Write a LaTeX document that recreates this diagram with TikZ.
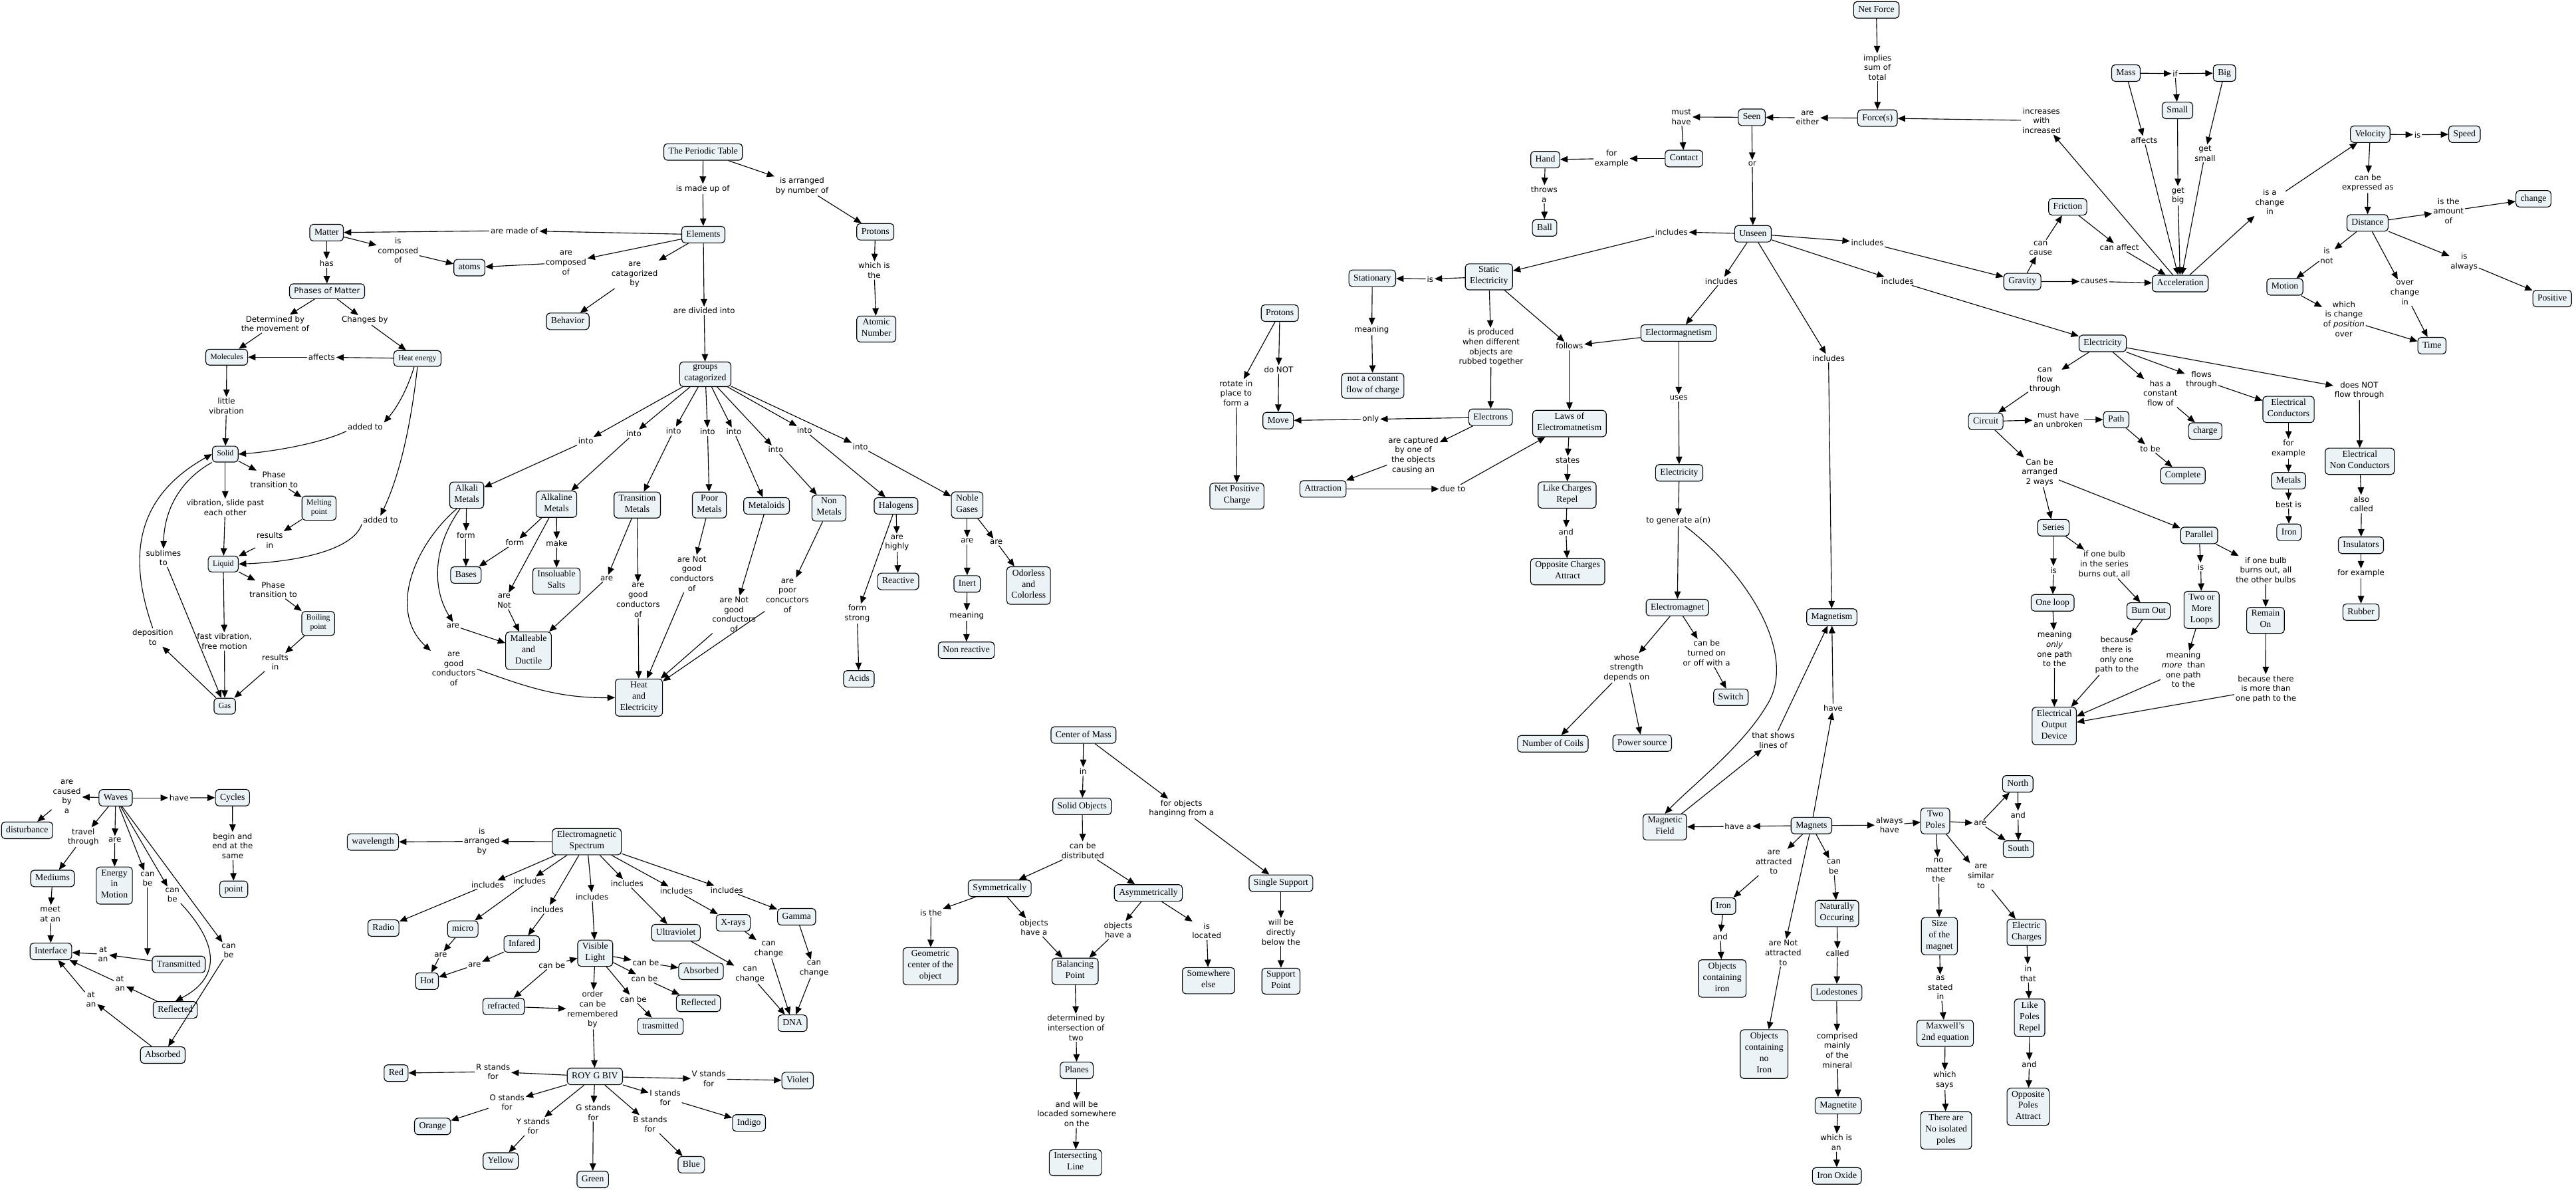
\documentclass[tikz,border=0pt]{standalone}
\usepackage{fontspec}
\setmainfont{Liberation Serif}
\newfontfamily\lsans{DejaVu Sans}
\usetikzlibrary{arrows.meta}
\definecolor{nodefill}{RGB}{236,243,246}
\newcommand{\cmlk}[3]{\draw[arr] (#1) -- (#2); \draw[arr] (#2) -- (#3);}
\newcommand{\cmar}[2]{\draw[arr] (#1) -- (#2);}
\begin{document}
\begin{tikzpicture}[x=1mm,y=-1mm,
 cpt/.style={draw=black, line width=1.3pt, rounded corners=6pt, fill=nodefill, align=center, inner xsep=8pt, inner ysep=4.6pt, font=\fontsize{15.8}{19.5}\selectfont, execute at begin node=\strut, execute at end node=\strut},
 cptsm/.style={cpt, font=\fontsize{13.6}{16.5}\selectfont, inner ysep=5.5pt},
 cptsans/.style={cpt, font=\lsans\fontsize{13.6}{16.5}\selectfont},
 lbl/.style={align=center, inner sep=2pt, font=\lsans\fontsize{13.6}{16.9}\selectfont},
 arr/.style={-{Triangle[length=13pt,width=11pt]}, line width=1.3pt},
]
\fill[white] (0,0) rectangle (1568,724);
\useasboundingbox (0,0) rectangle (1568,724);

% ---------- Periodic table ----------
\node[cpt] (pt) at (428,92.5) {The Periodic Table};
\node[lbl] (l1) at (427.8,115) {is made up of};
\node[cpt] (elem) at (428.1,142.8) {Elements};
\node[lbl] (l2) at (488.2,113.1) {is arranged\\by number of};
\node[cpt] (prot1) at (532.8,141.1) {Protons};
\node[lbl] (l3) at (532.1,164.6) {which is\\the};
\node[cpt] (atomic) at (533.4,200.3) {Atomic\\Number};
\node[lbl] (l4) at (313.1,140.4) {are made of};
\node[cpt] (matter) at (198.8,141.6) {Matter};
\node[lbl] (l5) at (242.3,152.5) {is\\composed\\of};
\node[cpt] (atoms) at (285.7,162.9) {atoms};
\node[lbl] (l6) at (344.5,159.9) {are\\composed\\of};
\node[lbl] (l7) at (386.3,167.1) {are\\catagorized\\by};
\node[cpt] (behav) at (345.6,195.6) {Behavior};
\node[lbl] (l8) at (428.6,189.2) {are divided into};
\node[cpt] (groups) at (429.3,227.8) {groups\\catagorized};

% ---------- Matter ----------
\node[lbl] (m1) at (198.8,160.4) {has};
\node[cptsans] (phases) at (199.1,177.3) {Phases of Matter};
\node[lbl] (m2) at (167.5,197.1) {Determined by\\the movement of};
\node[lbl] (m3) at (222.1,194.9) {Changes by};
\node[cptsm] (molec) at (138,217.4) {Molecules};
\node[lbl] (m4) at (195.8,217.4) {affects};
\node[cptsm] (heat) at (254.1,218.2) {Heat energy};
\node[lbl] (m5) at (137.8,247.2) {little\\vibration};
\node[lbl] (m6) at (222.3,259.8) {added to};
\node[cptsm] (solid) at (137.1,276.4) {Solid};
\node[lbl] (m7) at (166.8,292) {Phase\\transition to};
\node[cptsm] (melt) at (194.2,309.3) {Melting\\point};
\node[lbl] (m8) at (137.1,309.1) {vibration, slide past\\each other};
\node[lbl] (m9) at (231.6,316.5) {added to};
\node[lbl] (m10) at (164.2,328.9) {results\\in};
\node[cptsm] (liquid) at (135.9,343.3) {Liquid};
\node[lbl] (m11) at (166.3,358.9) {Phase\\transition to};
\node[cptsm] (boil) at (193.7,379.5) {Boiling\\point};
\node[lbl] (m12) at (136.6,390.4) {fast vibration,\\free motion};
\node[lbl] (m13) at (167.5,403) {results\\in};
\node[cptsm] (gas) at (136.8,429.8) {Gas};
\node[lbl] (m14) at (99.5,339.5) {sublimes\\to};
\node[lbl] (m15) at (93,388) {deposition\\to};

% ---------- Groups ----------
\node[lbl] (g1) at (356.6,268.5) {into};
\node[lbl] (g2) at (385.8,264) {into};
\node[lbl] (g3) at (410,262.3) {into};
\node[lbl] (g4) at (430.7,262.8) {into};
\node[lbl] (g5) at (446.7,262.8) {into};
\node[lbl] (g6) at (472.2,273.7) {into};
\node[lbl] (g7) at (489.7,262) {into};
\node[lbl] (g8) at (523.7,271.9) {into};
\node[cpt] (alkali) at (284.1,301.4) {Alkali\\Metals};
\node[cpt] (alkaline) at (338.7,306.9) {Alkaline\\Metals};
\node[cpt] (trans) at (387.9,307.4) {Transition\\Metals};
\node[cpt] (poor) at (431.8,307.4) {Poor\\Metals};
\node[cpt] (metaloids) at (466.6,307.9) {Metaloids};
\node[cpt] (nonmet) at (504.6,309.3) {Non\\Metals};
\node[cpt] (halo) at (545.4,307.9) {Halogens};
\node[cpt] (noble) at (588.7,307.4) {Noble\\Gases};
\node[lbl] (g9) at (283.6,325.7) {form};
\node[cpt] (bases) at (283.6,350) {Bases};
\node[lbl] (g10) at (313.4,330.4) {form};
\node[lbl] (g11) at (338.9,330.7) {make};
\node[cpt] (salts) at (338.7,353.7) {Insoluable\\Salts};
\node[lbl] (g12) at (306.9,365.8) {are\\Not};
\node[cpt] (mall) at (321.7,396.1) {Malleable\\and\\Ductile};
\node[lbl] (g13) at (275.7,380.7) {are};
\node[lbl] (g14) at (276.2,407.2) {are\\good\\conductors\\of};
\node[lbl] (g15) at (369.3,352) {are};
\node[lbl] (g16) at (388.4,365.3) {are\\good\\conductors\\of};
\node[cpt] (heatel) at (388.9,424.6) {Heat\\and\\Electricity};
\node[lbl] (g17) at (421.1,349.2) {are Not\\good\\conductors\\of};
\node[lbl] (g18) at (446.8,374) {are Not\\good\\conductors\\of};
\node[lbl] (g19) at (479.3,362.6) {are\\poor\\concuctors\\of};
\node[lbl] (g20) at (546,330.4) {are\\highly};
\node[cpt] (react) at (546.7,353.9) {Reactive};
\node[lbl] (g21) at (521.8,373.5) {form\\strong};
\node[cpt] (acids) at (522.8,413.2) {Acids};
\node[lbl] (g22) at (588.7,329.2) {are};
\node[lbl] (g23) at (606.4,329.9) {are};
\node[cpt] (inert) at (588.7,355.4) {Inert};
\node[lbl] (g24) at (588.4,374.8) {meaning};
\node[cpt] (nonreact) at (588.2,395.8) {Non reactive};
\node[cpt] (odor) at (626.1,356.4) {Odorless\\and\\Colorless};

% ---------- Waves ----------
\node[cpt] (waves) at (70.4,485.6) {Waves};
\node[lbl] (w1) at (40.7,484.9) {are\\caused\\by\\a};
\node[cpt] (disturb) at (16.5,505.4) {disturbance};
\node[lbl] (w2) at (109,485.6) {have};
\node[cpt] (cycles) at (141.5,485.5) {Cycles};
\node[lbl] (w3) at (141.6,514.9) {begin and\\end at the\\same};
\node[cpt] (point) at (142.3,541.3) {point};
\node[lbl] (w4) at (50.7,509.6) {travel\\through};
\node[cpt] (mediums) at (32,534.7) {Mediums};
\node[lbl] (w5) at (30.6,556.3) {meet\\at an};
\node[cpt] (interface) at (31,579.1) {Interface};
\node[lbl] (w6) at (69.9,511) {are};
\node[cpt] (energy) at (69.6,539) {Energy\\in\\Motion};
\node[lbl] (w7) at (89.8,535) {can\\be};
\node[lbl] (w8) at (104.9,544.7) {can\\be};
\node[lbl] (w9) at (139.2,578.7) {can\\be};
\node[cpt] (transm) at (108.8,587) {Transmitted};
\node[lbl] (w10) at (62.7,580.8) {at\\an};
\node[cpt] (reflw) at (106.7,614.7) {Reflected};
\node[lbl] (w11) at (73,598.6) {at\\an};
\node[lbl] (w12) at (55.4,608.3) {at\\an};
\node[cpt] (absw) at (99.1,642.2) {Absorbed};

% ---------- Electromagnetic spectrum ----------
\node[cpt] (ems) at (357.2,512.3) {Electromagnetic\\Spectrum};
\node[lbl] (e0) at (293.3,512.1) {is\\arranged\\by};
\node[cpt] (wavelen) at (227,512.5) {wavelength};
\node[lbl] (ei1) at (296.8,538.5) {includes};
\node[lbl] (ei2) at (322.3,536.1) {includes};
\node[lbl] (ei3) at (333.1,553.5) {includes};
\node[lbl] (ei4) at (360.4,545.8) {includes};
\node[lbl] (ei5) at (381.7,537.7) {includes};
\node[lbl] (ei6) at (411.7,542.2) {includes};
\node[lbl] (ei7) at (442.4,541.7) {includes};
\node[cpt] (radio) at (233.4,564.9) {Radio};
\node[cpt] (micro) at (281.7,565.5) {micro};
\node[lbl] (e2) at (268.2,581.1) {are};
\node[lbl] (e3) at (288.8,587.4) {are};
\node[cpt] (hot) at (259.9,597.2) {Hot};
\node[cpt] (infared) at (317.6,574.6) {Infared};
\node[cpt] (vl) at (362.3,580.2) {Visible\\Light};
\node[lbl] (e1) at (336,587.4) {can be};
\node[cpt] (refr) at (306.6,612.6) {refracted};
\node[lbl] (e4) at (360.7,614.5) {order\\can be\\remembered\\by};
\node[lbl] (e5) at (393.1,585.9) {can be};
\node[cpt] (absE) at (426.7,591.2) {Absorbed};
\node[lbl] (e6) at (392.3,595.6) {can be};
\node[cpt] (reflE) at (425.1,610.7) {Reflected};
\node[lbl] (e7) at (385.5,608.1) {can be};
\node[cpt] (trasm) at (402,624.7) {trasmitted};
\node[cpt] (uv) at (411.4,567.7) {Ultraviolet};
\node[cpt] (xray) at (446.3,561.7) {X-rays};
\node[cpt] (gamma) at (484.9,558) {Gamma};
\node[lbl] (e8) at (456.5,593.2) {can\\change};
\node[lbl] (e9) at (467.9,577.8) {can\\change};
\node[lbl] (e10) at (495.5,589.6) {can\\change};
\node[cpt] (dna) at (482.4,622.8) {DNA};
\node[cpt] (roy) at (362.1,655.2) {ROY G BIV};
\node[lbl] (e11) at (300.1,652.3) {R stands\\for};
\node[cpt] (red) at (241.1,653.2) {Red};
\node[lbl] (e12) at (431.4,656.7) {V stands\\for};
\node[cpt] (violet) at (485.5,657.7) {Violet};
\node[lbl] (e13) at (308.6,670.9) {O stands\\for};
\node[cpt] (orange) at (263.3,685.6) {Orange};
\node[lbl] (e14) at (324.5,685.5) {Y stands\\for};
\node[cpt] (yellow) at (304.8,706.7) {Yellow};
\node[lbl] (e15) at (361.1,677.1) {G stands\\for};
\node[cpt] (green) at (360.8,717.9) {Green};
\node[lbl] (e16) at (395.7,684.3) {B stands\\for};
\node[cpt] (blue) at (420.8,708.9) {Blue};
\node[lbl] (e17) at (404.9,668.1) {I stands\\for};
\node[cpt] (indigo) at (455.9,683.5) {Indigo};

% ---------- Center of mass ----------
\node[cpt] (com) at (659.5,447.4) {Center of Mass};
\node[lbl] (k1) at (659.3,469.5) {in};
\node[cpt] (solidobj) at (658.7,490.8) {Solid Objects};
\node[lbl] (k2) at (719.1,492.2) {for objects\\hanginng from a};
\node[lbl] (k3) at (659.1,517.7) {can be\\distributed};
\node[cpt] (sym) at (608.5,540.7) {Symmetrically};
\node[cpt] (asym) at (699,543.5) {Asymmetrically};
\node[cpt] (single) at (779.7,537.6) {Single Support};
\node[lbl] (k4) at (566.7,555.7) {is the};
\node[lbl] (k5) at (629.4,564.5) {objects\\have a};
\node[lbl] (k6) at (680.6,566.1) {objects\\have a};
\node[lbl] (k7) at (734.5,566.5) {is\\located};
\node[lbl] (k8) at (779.7,567.3) {will be\\directly\\below the};
\node[cpt] (geo) at (566.4,588.1) {Geometric\\center of the\\object};
\node[cpt] (bal) at (654.4,591.2) {Balancing\\Point};
\node[cpt] (somewhere) at (735.6,596.9) {Somewhere\\else};
\node[cpt] (support) at (779.7,597.2) {Support\\Point};
\node[lbl] (k9) at (655,625.6) {determined by\\intersection of\\two};
\node[cpt] (planes) at (655.4,651.5) {Planes};
\node[lbl] (k10) at (655.4,678) {and will be\\locaded somewhere\\on the};
\node[cpt] (intline) at (654.6,707.7) {Intersecting\\Line};

% ---------- Forces ----------
\node[cpt] (netf) at (1142.1,6) {Net Force};
\node[lbl] (f1) at (1142.8,41) {implies\\sum of\\total};
\node[cpt] (forces) at (1142.8,71.9) {Force(s)};
\node[lbl] (f2) at (1100.2,71.7) {are\\either};
\node[cpt] (seen) at (1066.3,71.4) {Seen};
\node[lbl] (f3) at (1023.4,71.2) {must\\have};
\node[cpt] (contact) at (1025,96.5) {Contact};
\node[lbl] (f4) at (980.9,96.5) {for\\example};
\node[cpt] (hand) at (940.6,97.2) {Hand};
\node[lbl] (f5) at (939.9,118.3) {throws\\a};
\node[cpt] (ball) at (940.2,138.7) {Ball};
\node[lbl] (f6) at (1066.6,99.5) {or};
\node[cpt] (unseen) at (1067,142.3) {Unseen};
\node[lbl] (f7) at (1017.4,141.1) {includes};
\node[lbl] (f8) at (1136.7,147.6) {includes};
\node[lbl] (f9) at (1047.8,171.1) {includes};
\node[lbl] (f10) at (1155,171.1) {includes};
\node[lbl] (f11) at (1113,218) {includes};
\node[cpt] (static) at (906.3,168.5) {Static\\Electricity};
\node[lbl] (f12) at (870.5,169.8) {is};
\node[cpt] (stat) at (835.3,169.4) {Stationary};
\node[lbl] (f13) at (835,201) {meaning};
\node[cpt] (notc) at (835.6,234.8) {not a constant\\flow of charge};
\node[cpt] (prot2) at (779,190.6) {Protons};
\node[lbl] (f14) at (778.3,224.9) {do NOT};
\node[lbl] (f15) at (752.4,239.3) {rotate in\\place to\\form a};
\node[cpt] (move) at (778,256) {Move};
\node[lbl] (f16) at (834.3,255.2) {only};
\node[cpt] (electrons) at (907.3,254) {Electrons};
\node[lbl] (f17) at (907.6,211.5) {is produced\\when different\\objects are\\rubbed together};
\node[lbl] (f18) at (955.3,210.6) {follows};
\node[cpt] (emism) at (1021.8,202.7) {Electormagnetism};
\node[cpt] (laws) at (955.3,257.8) {Laws of\\Electromatnetism};
\node[lbl] (f19) at (1021.8,242.2) {uses};
\node[lbl] (f20) at (860.3,277.1) {are captured\\by one of\\the objects\\causing an};
\node[cpt] (attr) at (805.3,297.6) {Attraction};
\node[lbl] (f21) at (884.3,297.6) {due to};
\node[cpt] (netpos) at (752.9,302) {Net Positive\\Charge};
\node[lbl] (f22) at (954.2,280.1) {states};
\node[cpt] (likec) at (953.9,301.3) {Like Charges\\Repel};
\node[lbl] (f23) at (953.2,323.6) {and};
\node[cpt] (oppc) at (954.2,348) {Opposite Charges\\Attract};
\node[cpt] (elecC) at (1022.1,287.8) {Electricity};
\node[lbl] (f24) at (1021.6,317.1) {to generate a(n)};
\node[cpt] (emag) at (1021,369.8) {Electromagnet};
\node[lbl] (f25) at (990.1,406.5) {whose\\strength\\depends on};
\node[lbl] (f26) at (1038.8,397.4) {can be\\turned on\\or off with a};
\node[cpt] (switch) at (1053.6,424.4) {Switch};
\node[cpt] (coils) at (945.2,452.7) {Number of Coils};
\node[cpt] (power) at (999.6,452.3) {Power source};
\node[cpt] (magnetism) at (1115,375.6) {Magnetism};
\node[lbl] (f27) at (1079.4,450.6) {that shows\\lines of};
\node[lbl] (f28) at (1115.8,430.9) {have};

% ---------- Magnets ----------
\node[cpt] (magfield) at (1013.4,503.4) {Magnetic\\Field};
\node[lbl] (n1) at (1057.9,503) {have a};
\node[cpt] (magnets) at (1102.6,502.5) {Magnets};
\node[lbl] (n2) at (1150.1,502.2) {always\\have};
\node[cpt] (twopoles) at (1178,499.7) {Two\\Poles};
\node[lbl] (n3) at (1205.4,501.1) {are};
\node[cpt] (north) at (1228.2,477.1) {North};
\node[lbl] (n4) at (1228.4,496.1) {and};
\node[cpt] (south) at (1228.6,516.8) {South};
\node[lbl] (n5) at (1180,529.7) {no\\matter\\the};
\node[lbl] (n6) at (1205.8,533.4) {are\\similar\\to};
\node[cpt] (size) at (1180.5,569.8) {Size\\of the\\magnet};
\node[cpt] (echarge) at (1233.5,567.5) {Electric\\Charges};
\node[lbl] (n7) at (1181.1,601.2) {as\\stated\\in};
\node[lbl] (n8) at (1234.5,592.5) {in\\that};
\node[cpt] (maxwell) at (1184,628.9) {Maxwell's\\2nd equation};
\node[cpt] (likep) at (1235.4,619.5) {Like\\Poles\\Repel};
\node[lbl] (n9) at (1183.7,657.5) {which\\says};
\node[lbl] (n10) at (1235.2,647.9) {and};
\node[cpt] (noiso) at (1184.6,688) {There are\\No isolated\\poles};
\node[cpt] (oppp) at (1234.5,673.7) {Opposite\\Poles\\Attract};
\node[lbl] (n11) at (1079.7,524.8) {are\\attracted\\to};
\node[cpt] (ironM) at (1049.1,551.5) {Iron};
\node[lbl] (n12) at (1047.1,570) {and};
\node[cpt] (objiron) at (1048.3,595.6) {Objects\\containing\\iron};
\node[lbl] (n13) at (1085.4,579.9) {are Not\\attracted\\to};
\node[cpt] (objnoiron) at (1073.8,641.6) {Objects\\containing\\no\\Iron};
\node[lbl] (n14) at (1116.2,527.6) {can\\be};
\node[cpt] (natural) at (1118.1,556) {Naturally\\Occuring};
\node[lbl] (n15) at (1118.5,580.1) {called};
\node[cpt] (lode) at (1117.9,604.1) {Lodestones};
\node[lbl] (n16) at (1118.3,639.2) {comprised\\mainly\\of the\\mineral};
\node[cpt] (magnetite) at (1118.9,673) {Magnetite};
\node[lbl] (n17) at (1117.7,695.5) {which is\\an};
\node[cpt] (ironox) at (1118.1,715.7) {Iron Oxide};

% ---------- Right: motion and electricity ----------
\node[cpt] (mass) at (1294,44.5) {Mass};
\node[lbl] (r1) at (1324,44.8) {if};
\node[cpt] (big) at (1354,44.5) {Big};
\node[cpt] (small) at (1325.4,67.2) {Small};
\node[lbl] (r2) at (1242.6,73.4) {increases\\with\\increased};
\node[lbl] (r3) at (1305.1,85.4) {affects};
\node[lbl] (r4) at (1342.2,93.4) {get\\small};
\node[lbl] (r5) at (1325.7,119.2) {get\\big};
\node[cpt] (velocity) at (1442.7,81.7) {Velocity};
\node[lbl] (r6) at (1471.5,82) {is};
\node[cpt] (speed) at (1500.1,81.7) {Speed};
\node[lbl] (r7) at (1441.3,111.4) {can be\\expressed as};
\node[lbl] (r8) at (1381.6,122.9) {is a\\change\\in};
\node[cpt] (friction) at (1258.6,125.9) {Friction};
\node[lbl] (r9) at (1490.4,128.5) {is the\\amount\\of};
\node[cpt] (change) at (1542.1,121) {change};
\node[cpt] (distance) at (1441.1,135.7) {Distance};
\node[lbl] (r10) at (1242.1,151) {can\\cause};
\node[lbl] (r11) at (1290,150.6) {can affect};
\node[lbl] (r12) at (1416.3,155.5) {is\\not};
\node[lbl] (r13) at (1499.9,159.4) {is\\always};
\node[cpt] (gravity) at (1231,171.4) {Gravity};
\node[lbl] (r14) at (1274.7,171.3) {causes};
\node[cpt] (accel) at (1327.1,172.6) {Acceleration};
\node[cpt] (motion) at (1390.8,174.6) {Motion};
\node[lbl] (r15) at (1463.8,178.1) {over\\change\\in};
\node[cpt] (positive) at (1553.5,181.7) {Positive};
\node[lbl] (r16) at (1426.7,194.1) {which\\is change\\of \textit{position}\\over};
\node[cpt] (time) at (1480.3,210.4) {Time};
\node[cpt] (elecR) at (1279.9,209) {Electricity};
\node[lbl] (r17) at (1244.7,231.5) {can\\flow\\through};
\node[lbl] (r18) at (1315,239.3) {has a\\constant\\flow of};
\node[lbl] (r19) at (1340,231.1) {flows\\through};
\node[lbl] (r20) at (1436.1,237.6) {does NOT\\flow through};
\node[cpt] (circuit) at (1208.7,256.5) {Circuit};
\node[lbl] (r21) at (1252.8,255.4) {must have\\an unbroken};
\node[cpt] (path) at (1288.1,255.4) {Path};
\node[lbl] (r22) at (1308.8,273.1) {to be};
\node[cpt] (complete) at (1328.7,289.5) {Complete};
\node[cpt] (charge) at (1342.3,262.4) {charge};
\node[cpt] (econd) at (1393,249.2) {Electrical\\Conductors};
\node[lbl] (r23) at (1393,273.1) {for\\example};
\node[cpt] (metals) at (1393,292.6) {Metals};
\node[lbl] (r24) at (1393,307) {best is};
\node[cpt] (ironR) at (1393.3,324) {Iron};
\node[cpt] (enon) at (1436.4,280.8) {Electrical\\Non Conductors};
\node[lbl] (r25) at (1437.4,306.8) {also\\called};
\node[cpt] (insul) at (1437.1,331.9) {Insulators};
\node[lbl] (r26) at (1437.1,349.1) {for example};
\node[cpt] (rubber) at (1437.1,372.6) {Rubber};
\node[lbl] (r27) at (1241.5,287.5) {Can be\\arranged\\2 ways};
\node[cpt] (series) at (1249.9,321.2) {Series};
\node[cpt] (parallel) at (1338.6,325.9) {Parallel};
\node[lbl] (r28) at (1249.9,347.1) {is};
\node[lbl] (r29) at (1280.9,343.4) {if one bulb\\in the series\\burns out, all};
\node[lbl] (r30) at (1339.6,345.1) {is};
\node[lbl] (r31) at (1379.2,346.9) {if one bulb\\burns out, all\\the other bulbs};
\node[cpt] (oneloop) at (1249.4,366.9) {One loop};
\node[cpt] (burnout) at (1307.8,371.9) {Burn Out};
\node[cpt] (twoloops) at (1340.1,371.2) {Two or\\More\\Loops};
\node[cpt] (remain) at (1379,377.6) {Remain\\On};
\node[lbl] (r32) at (1250.6,395.1) {meaning\\\textit{only}\\one path\\to the};
\node[lbl] (r33) at (1288.5,398.8) {because\\there is\\only one\\path to the};
\node[lbl] (r34) at (1329,407.6) {meaning\\\textit{more}~ than\\one path\\to the};
\node[lbl] (r35) at (1379.2,419.4) {because there\\is more than\\one path to the};
\node[cpt] (eod) at (1250.4,441.9) {Electrical\\Output\\Device};

% ================= connectors =================
\cmlk{pt}{l1}{elem}
\cmlk{pt}{l2}{prot1}
\cmlk{prot1}{l3}{atomic}
\cmlk{elem}{l4}{matter}
\cmlk{matter}{l5}{atoms}
\cmlk{elem}{l6}{atoms}
\cmlk{elem}{l7}{behav}
\cmlk{elem}{l8}{groups}
\cmlk{matter}{m1}{phases}
\cmlk{phases}{m2}{molec}
\cmlk{phases}{m3}{heat}
\cmlk{heat}{m4}{molec}
\cmlk{molec}{m5}{solid}
\cmlk{solid}{m7}{melt}
\cmlk{melt}{m10}{liquid}
\cmlk{solid}{m8}{liquid}
\cmlk{liquid}{m11}{boil}
\cmlk{boil}{m13}{gas}
\cmlk{liquid}{m12}{gas}
\draw[arr] ([xshift=-2mm]heat.south) .. controls (247,240) and (240,250) .. (m6.north east);
\draw[arr] (m6.south west) .. controls (195,270) and (165,275) .. (solid.east);
\draw[arr] (heat.south) .. controls (250,260) and (243,290) .. (m9.north);
\draw[arr] (m9.south west) .. controls (215,335) and (180,342) .. (liquid.east);
\draw[arr] (solid.south west) .. controls (110,292) and (100,310) .. (m14.north);
\cmar{m14}{gas}
\cmar{gas}{m15}
\draw[arr] (m15.north) .. controls (80,345) and (78,305) .. (solid.west);
\cmlk{groups}{g1}{alkali}
\cmlk{groups}{g2}{alkaline}
\cmlk{groups}{g3}{trans}
\cmlk{groups}{g4}{poor}
\cmlk{groups}{g5}{metaloids}
\cmlk{groups}{g6}{nonmet}
\cmlk{groups}{g7}{halo}
\cmlk{groups}{g8}{noble}
\cmlk{alkali}{g9}{bases}
\cmlk{alkaline}{g10}{bases}
\cmlk{alkaline}{g11}{salts}
\cmlk{alkaline}{g12}{mall}
\draw[arr] ([xshift=-4mm]alkali.south) .. controls (262,335) and (264,360) .. (g13.north);
\cmar{g13}{mall}
\draw[arr] ([xshift=-6mm]alkali.south) .. controls (252,332) and (236,372) .. (g14.north west);
\draw[arr] (g14.east) .. controls (320,418) and (340,425) .. (heatel.west);
\cmlk{trans}{g15}{mall}
\cmlk{trans}{g16}{heatel}
\cmlk{poor}{g17}{heatel}
\cmlk{metaloids}{g18}{heatel}
\cmlk{nonmet}{g19}{heatel}
\cmlk{halo}{g20}{react}
\cmlk{halo}{g21}{acids}
\cmlk{noble}{g22}{inert}
\cmlk{noble}{g23}{odor}
\cmlk{inert}{g24}{nonreact}
\cmlk{waves}{w1}{disturb}
\cmlk{waves}{w2}{cycles}
\cmlk{cycles}{w3}{point}
\cmlk{waves}{w4}{mediums}
\cmlk{mediums}{w5}{interface}
\cmlk{waves}{w6}{energy}
\cmar{waves}{w7}
\draw[arr] (w7.south) -- (w7.south |- transm.north);
\cmar{waves}{w8}
\draw[arr] (w8.south east) .. controls (127,568) and (140,592) .. (reflw.north);
\cmlk{waves}{w9}{absw}
\cmlk{transm}{w10}{interface}
\cmlk{reflw}{w11}{interface}
\cmlk{absw}{w12}{interface}
\cmlk{ems}{e0}{wavelen}
\cmlk{ems}{ei1}{radio}
\cmlk{ems}{ei2}{micro}
\cmlk{ems}{ei3}{infared}
\cmlk{ems}{ei4}{vl}
\cmlk{ems}{ei5}{uv}
\cmlk{ems}{ei6}{xray}
\cmlk{ems}{ei7}{gamma}
\cmlk{micro}{e2}{hot}
\cmlk{infared}{e3}{hot}
\cmar{e1}{vl}
\cmar{e1}{refr}
\cmlk{vl}{e4}{roy}
\cmar{refr}{e4}
\cmlk{vl}{e5}{absE}
\cmlk{vl}{e6}{reflE}
\cmlk{vl}{e7}{trasm}
\cmlk{uv}{e8}{dna}
\cmlk{xray}{e9}{dna}
\cmlk{gamma}{e10}{dna}
\cmlk{roy}{e11}{red}
\cmlk{roy}{e12}{violet}
\cmlk{roy}{e13}{orange}
\cmlk{roy}{e14}{yellow}
\cmlk{roy}{e15}{green}
\cmlk{roy}{e16}{blue}
\cmlk{roy}{e17}{indigo}
\cmlk{com}{k1}{solidobj}
\cmlk{com}{k2}{single}
\cmlk{solidobj}{k3}{sym}
\cmar{k3}{asym}
\cmlk{sym}{k4}{geo}
\cmlk{sym}{k5}{bal}
\cmlk{asym}{k6}{bal}
\cmlk{asym}{k7}{somewhere}
\cmlk{single}{k8}{support}
\cmlk{bal}{k9}{planes}
\cmlk{planes}{k10}{intline}
\cmlk{netf}{f1}{forces}
\cmlk{forces}{f2}{seen}
\cmlk{seen}{f3}{contact}
\cmlk{contact}{f4}{hand}
\cmlk{hand}{f5}{ball}
\cmlk{seen}{f6}{unseen}
\cmlk{unseen}{f7}{static}
\cmlk{unseen}{f8}{gravity}
\cmlk{unseen}{f9}{emism}
\cmlk{unseen}{f10}{elecR}
\cmlk{unseen}{f11}{magnetism}
\cmlk{static}{f12}{stat}
\cmlk{stat}{f13}{notc}
\cmlk{static}{f17}{electrons}
\cmlk{static}{f18}{laws}
\cmar{emism}{f18}
\cmlk{emism}{f19}{elecC}
\cmlk{prot2}{f14}{move}
\cmlk{prot2}{f15}{netpos}
\cmlk{electrons}{f16}{move}
\cmlk{electrons}{f20}{attr}
\cmlk{attr}{f21}{laws}
\cmlk{laws}{f22}{likec}
\cmlk{likec}{f23}{oppc}
\cmlk{elecC}{f24}{emag}
\draw[arr] ([xshift=4mm]f24.south) .. controls (1065,350) and (1095,400) .. (1075,430) .. controls (1060,455) and (1030,478) .. (magfield.north);
\cmlk{emag}{f25}{coils}
\cmar{f25}{power}
\cmlk{emag}{f26}{switch}
\cmlk{magfield}{f27}{magnetism}
\cmlk{magnets}{f28}{magnetism}
\cmlk{magnets}{n1}{magfield}
\cmlk{magnets}{n2}{twopoles}
\cmlk{twopoles}{n3}{north}
\cmar{n3}{south}
\cmlk{north}{n4}{south}
\cmlk{twopoles}{n5}{size}
\cmlk{size}{n7}{maxwell}
\cmlk{maxwell}{n9}{noiso}
\cmlk{twopoles}{n6}{echarge}
\cmlk{echarge}{n8}{likep}
\cmlk{likep}{n10}{oppp}
\cmlk{magnets}{n11}{ironM}
\cmlk{ironM}{n12}{objiron}
\cmlk{magnets}{n13}{objnoiron}
\cmlk{magnets}{n14}{natural}
\cmlk{natural}{n15}{lode}
\cmlk{lode}{n16}{magnetite}
\cmlk{magnetite}{n17}{ironox}
\cmlk{mass}{r1}{big}
\cmar{r1}{small}
\cmlk{mass}{r3}{accel}
\cmlk{small}{r5}{accel}
\cmlk{big}{r4}{accel}
\cmlk{accel}{r2}{forces}
\cmlk{gravity}{r14}{accel}
\cmlk{gravity}{r10}{friction}
\cmlk{friction}{r11}{accel}
\cmlk{accel}{r8}{velocity}
\cmlk{velocity}{r6}{speed}
\cmlk{velocity}{r7}{distance}
\cmlk{distance}{r9}{change}
\cmlk{distance}{r12}{motion}
\cmlk{motion}{r16}{time}
\cmlk{distance}{r15}{time}
\cmlk{distance}{r13}{positive}
\cmlk{elecR}{r17}{circuit}
\cmlk{elecR}{r18}{charge}
\cmlk{elecR}{r19}{econd}
\cmlk{elecR}{r20}{enon}
\cmlk{circuit}{r21}{path}
\cmlk{path}{r22}{complete}
\cmlk{circuit}{r27}{series}
\cmar{r27}{parallel}
\cmlk{series}{r28}{oneloop}
\cmlk{series}{r29}{burnout}
\cmlk{parallel}{r30}{twoloops}
\cmlk{parallel}{r31}{remain}
\cmlk{oneloop}{r32}{eod}
\cmlk{burnout}{r33}{eod}
\cmlk{twoloops}{r34}{eod}
\cmlk{remain}{r35}{eod}
\cmlk{econd}{r23}{metals}
\cmlk{metals}{r24}{ironR}
\cmlk{enon}{r25}{insul}
\cmlk{insul}{r26}{rubber}
\end{tikzpicture}
\end{document}
